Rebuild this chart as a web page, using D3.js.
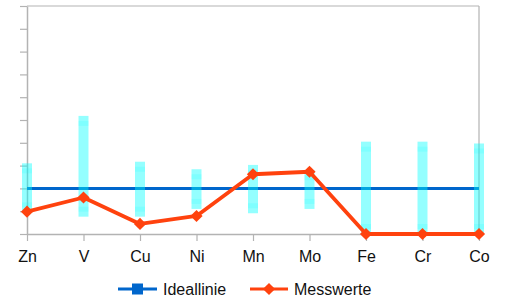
<!DOCTYPE html>
<html>
<head>
<meta charset="utf-8">
<script src="https://cdn.jsdelivr.net/npm/d3@7"></script>
<style>
  html, body { margin: 0; padding: 0; background: #fff; }
  svg { display: block; font-family: "Liberation Sans", Arial, sans-serif; }
</style>
</head>
<body>
<div id="chart"></div>
<script>
// Daten
const elemente = ['Zn', 'V', 'Cu', 'Ni', 'Mn', 'Mo', 'Fe', 'Cr', 'Co'];
const ideallinie = [2, 2, 2, 2, 2, 2, 2, 2, 2];
const messwerte = [0.98, 1.6, 0.44, 0.79, 2.62, 2.73, 0, 0, 0];
const fehlerUnten = [0.95, 0.76, 0.76, 1.1, 0.91, 1.1, 0, 0, 0];
const fehlerOben = [3.1, 5.18, 3.17, 2.84, 3.03, 2.8, 4.05, 4.05, 3.97];
const yTicks = d3.range(0, 11, 1);

// Maße
const W = 507, H = 302;
const plotLinks = 27, plotRechts = 479, plotOben = 6, plotUnten = 234;

const svg = d3.select('#chart')
    .append('svg')
    .attr('width', W)
    .attr('height', H);

// Skalen
const x = d3.scalePoint()
    .domain(elemente)
    .range([plotLinks, plotRechts]);

const y = d3.scaleLinear()
    .domain([0, 10])
    .range([plotUnten, plotOben]);

const grau = '#b3b3b3';

// Rahmen oben und rechts
svg.append('line')
    .attr('x1', plotLinks).attr('x2', plotRechts)
    .attr('y1', y(10)).attr('y2', y(10))
    .attr('stroke', grau).attr('stroke-width', 1.2);
svg.append('line')
    .attr('x1', plotRechts).attr('x2', plotRechts)
    .attr('y1', y(10)).attr('y2', y(0))
    .attr('stroke', grau).attr('stroke-width', 1.2);

// Y-Achse (ohne Beschriftung)
const yAxis = svg.append('g')
    .attr('transform', `translate(${plotLinks},0)`)
    .call(d3.axisLeft(y).tickValues(yTicks).tickSize(7).tickSizeOuter(0).tickFormat(''));
yAxis.select('.domain').attr('stroke', grau).attr('stroke-width', 1.5);
yAxis.selectAll('.tick line').attr('stroke', grau).attr('stroke-width', 1.2);

// X-Achse
const xAxis = svg.append('g')
    .attr('transform', `translate(0,${plotUnten})`)
    .call(d3.axisBottom(x).tickSize(7).tickSizeOuter(0).tickPadding(10));
xAxis.select('.domain').attr('stroke', grau).attr('stroke-width', 1.5);
xAxis.selectAll('.tick line').attr('stroke', grau).attr('stroke-width', 1.2);
xAxis.selectAll('text')
    .style('font-size', '16px')
    .style('font-family', '"Liberation Sans", Arial, sans-serif')
    .attr('fill', '#111');

// Ideallinie
const blau = '#0066cc';
const line = d3.line()
    .x((d, i) => x(elemente[i]))
    .y(d => y(d));

svg.append('path')
    .datum(ideallinie)
    .attr('d', line)
    .attr('fill', 'none')
    .attr('stroke', blau)
    .attr('stroke-width', 3);

// Fehlerbalken
const balkenBreite = 10;
const fehler = svg.append('g');
elemente.forEach((e, i) => {
    const y1 = y(fehlerOben[i]);
    const y2 = y(fehlerUnten[i]);
    fehler.append('rect')
        .attr('x', x(e) - balkenBreite / 2)
        .attr('y', y1)
        .attr('width', balkenBreite)
        .attr('height', y2 - y1)
        .attr('fill', 'rgba(0,255,255,0.42)');
    // dunklere Kappen
    [y1 + 5, y2 - 10].forEach(cy => {
        fehler.append('rect')
            .attr('x', x(e) - balkenBreite / 2)
            .attr('y', cy)
            .attr('width', balkenBreite)
            .attr('height', 5)
            .attr('fill', 'rgba(0,255,255,0.14)');
    });
});

// Messwerte
const rot = '#ff420e';
svg.append('path')
    .datum(messwerte)
    .attr('d', line)
    .attr('fill', 'none')
    .attr('stroke', rot)
    .attr('stroke-width', 3.8)
    .attr('stroke-linejoin', 'round');

const raute = d3.symbol().type(d3.symbolDiamond2).size(95);
svg.selectAll('.marker')
    .data(messwerte)
    .enter()
    .append('path')
    .attr('class', 'marker')
    .attr('d', raute)
    .attr('transform', (d, i) => `translate(${x(elemente[i])},${y(d)})`)
    .attr('fill', rot);

// Legende
const legende = svg.append('g').attr('transform', 'translate(0,289)');
legende.append('line')
    .attr('x1', 118).attr('x2', 157).attr('y1', 0).attr('y2', 0)
    .attr('stroke', blau).attr('stroke-width', 3);
legende.append('rect')
    .attr('x', 132).attr('y', -5.5).attr('width', 11).attr('height', 11)
    .attr('fill', blau);
legende.append('text')
    .attr('x', 163).attr('y', 5.5)
    .style('font-size', '16px')
    .attr('fill', '#111')
    .text('Ideallinie');

legende.append('line')
    .attr('x1', 250).attr('x2', 288).attr('y1', 0).attr('y2', 0)
    .attr('stroke', rot).attr('stroke-width', 3);
legende.append('path')
    .attr('d', raute)
    .attr('transform', 'translate(269,0)')
    .attr('fill', rot);
legende.append('text')
    .attr('x', 294).attr('y', 5.5)
    .style('font-size', '16px')
    .attr('fill', '#111')
    .text('Messwerte');
</script>
</body>
</html>
